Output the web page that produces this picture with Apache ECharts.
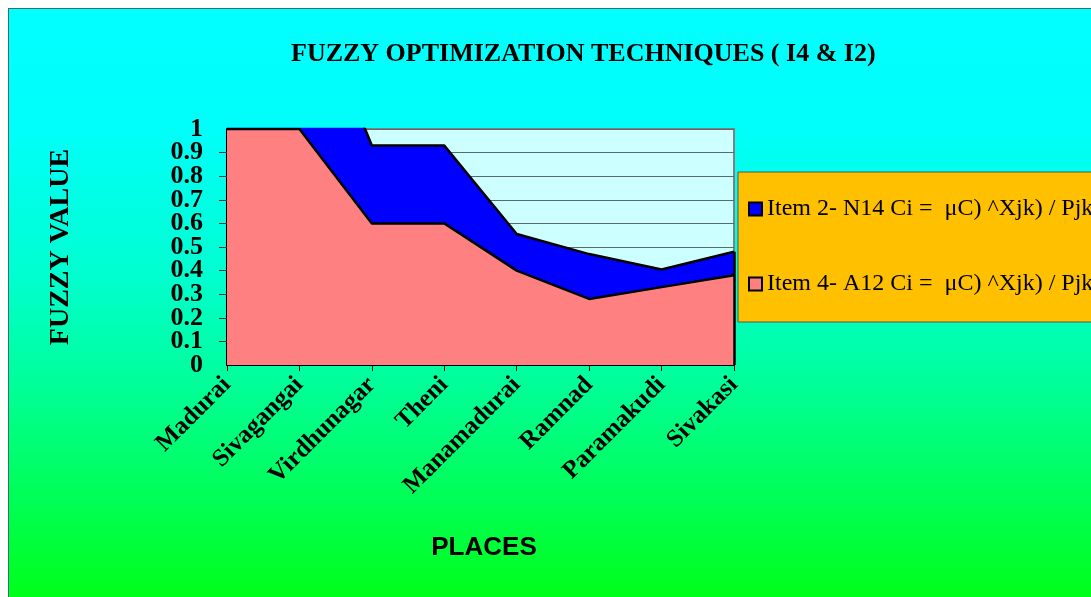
<!DOCTYPE html>
<html>
<head>
<meta charset="utf-8">
<script src="https://cdn.jsdelivr.net/npm/echarts@6/dist/echarts.min.js"></script>
<style>
html,body{margin:0;padding:0;background:#fff;}
#frame{position:absolute;left:8px;top:8px;width:1083px;height:589px;box-sizing:border-box;border-left:1px solid #3a6e6e;border-top:1px solid #3a6e6e;}
#chart{width:100%;height:100%;}
</style>
</head>
<body>
<div id="frame"><div id="chart"></div></div>
<script>
const categories = ['Madurai','Sivagangai','Virdhunagar','Theni','Manamadurai','Ramnad','Paramakudi','Sivakasi'];
const item4 = [1, 1, 0.6, 0.6, 0.4, 0.28, 0.33, 0.38];
const item2 = [0.35, 0.68, 0.33, 0.33, 0.155, 0.19, 0.075, 0.1];
const yTicks = [0, 0.1, 0.2, 0.3, 0.4, 0.5, 0.6, 0.7, 0.8, 0.9, 1];
const name2 = 'Item 2- N14 Ci =  \u03BCC) ^Xjk) / Pjk';
const name4 = 'Item 4- A12 Ci =  \u03BCC) ^Xjk) / Pjk';

const chart = echarts.init(document.getElementById('chart'), null, {renderer:'canvas'});
const last = categories.length - 1;
const serif = '"Liberation Serif", "Times New Roman", serif';
const tickFmt = v => { const t = yTicks.find(x => Math.abs(x - v) < 1e-6); return t === undefined ? '' : String(t); };
const yLabelStyle = {margin:24, fontFamily:serif, fontWeight:'bold', fontSize:26, color:'#000', formatter: tickFmt};
chart.setOption({
  backgroundColor: {
    type:'linear', x:0, y:0, x2:0, y2:1,
    colorStops:[
      {offset:0, color:'#00FFFF'},
      {offset:0.2, color:'#00FFFA'},
      {offset:0.45, color:'#00FFD0'},
      {offset:0.62, color:'#00FF9E'},
      {offset:0.82, color:'#00FF5A'},
      {offset:1, color:'#00FF1A'}
    ]
  },
  animation:false,
  title:{
    text:'FUZZY OPTIMIZATION TECHNIQUES ( I4 & I2)',
    left:277, top:27,
    textStyle:{fontFamily:serif, fontWeight:'bold', fontSize:26, color:'#000'}
  },
  legend:{
    orient:'vertical', left:729, top:163,
    data:[name2, name4],
    backgroundColor:'#FFC000', borderColor:'#555', borderWidth:1,
    padding:[25, 40, 26, 10],
    itemGap:51, itemWidth:13, itemHeight:13,
    icon:'rect',
    textStyle:{fontFamily:serif, fontSize:24, color:'#000'}
  },
  grid:{left:218, top:120, width:507, height:236, show:true, backgroundColor:'#CCFFFF', borderColor:'#808080', borderWidth:2},
  xAxis:{
    type:'category', data:categories, boundaryGap:false,
    name:'PLACES', nameLocation:'middle', nameGap:170,
    nameTextStyle:{fontFamily:'"Liberation Sans", Arial, sans-serif', fontWeight:'bold', fontSize:26, color:'#000', padding:[0,0,0,7]},
    axisLine:{lineStyle:{color:'#000', width:2}},
    axisTick:{show:true, length:6, lineStyle:{color:'#000'}},
    axisLabel:{rotate:45, margin:16, fontFamily:serif, fontWeight:'bold', fontSize:25, color:'#000'},
    splitLine:{show:false}
  },
  yAxis:[
    {
      type:'value', min:0, max:1, interval:0.1, position:'left',
      name:'FUZZY VALUE', nameLocation:'middle', nameGap:152, nameRotate:90,
      nameTextStyle:{fontFamily:serif, fontWeight:'bold', fontSize:28, color:'#000'},
      axisLine:{show:true, lineStyle:{color:'#000', width:2}},
      axisTick:{show:true, length:8, lineStyle:{color:'#333'}},
      axisLabel:Object.assign({showMinLabel:false, showMaxLabel:false}, yLabelStyle),
      splitLine:{show:true, lineStyle:{color:'#5a6a6a', width:1}}
    },
    {
      type:'value', min:0, max:1, interval:1, position:'left',
      axisLine:{show:false}, axisTick:{show:false}, splitLine:{show:false},
      axisLabel:Object.assign({showMinLabel:true, showMaxLabel:true}, yLabelStyle)
    }
  ],
  series:[
    {
      name:name4, type:'line', stack:'a', data:item4, showSymbol:false, symbol:'rect', clip:true,
      itemStyle:{color:'#FF8080', borderColor:'#000', borderWidth:1.5},
      lineStyle:{color:'#000', width:2.5},
      areaStyle:{color:'#FF8080', opacity:1}
    },
    {
      name:name2, type:'line', stack:'a', data:item2, showSymbol:false, symbol:'rect', clip:true,
      itemStyle:{color:'#0000FF', borderColor:'#000', borderWidth:1.5},
      lineStyle:{color:'#000', width:2.5},
      areaStyle:{color:'#0000FF', opacity:1},
      markLine:{
        silent:true, symbol:'none', label:{show:false},
        lineStyle:{color:'#000', width:2.5, type:'solid'},
        data:[[{coord:[last, 0]}, {coord:[last, item4[last] + item2[last]]}]]
      }
    }
  ]
});
</script>
</body>
</html>
